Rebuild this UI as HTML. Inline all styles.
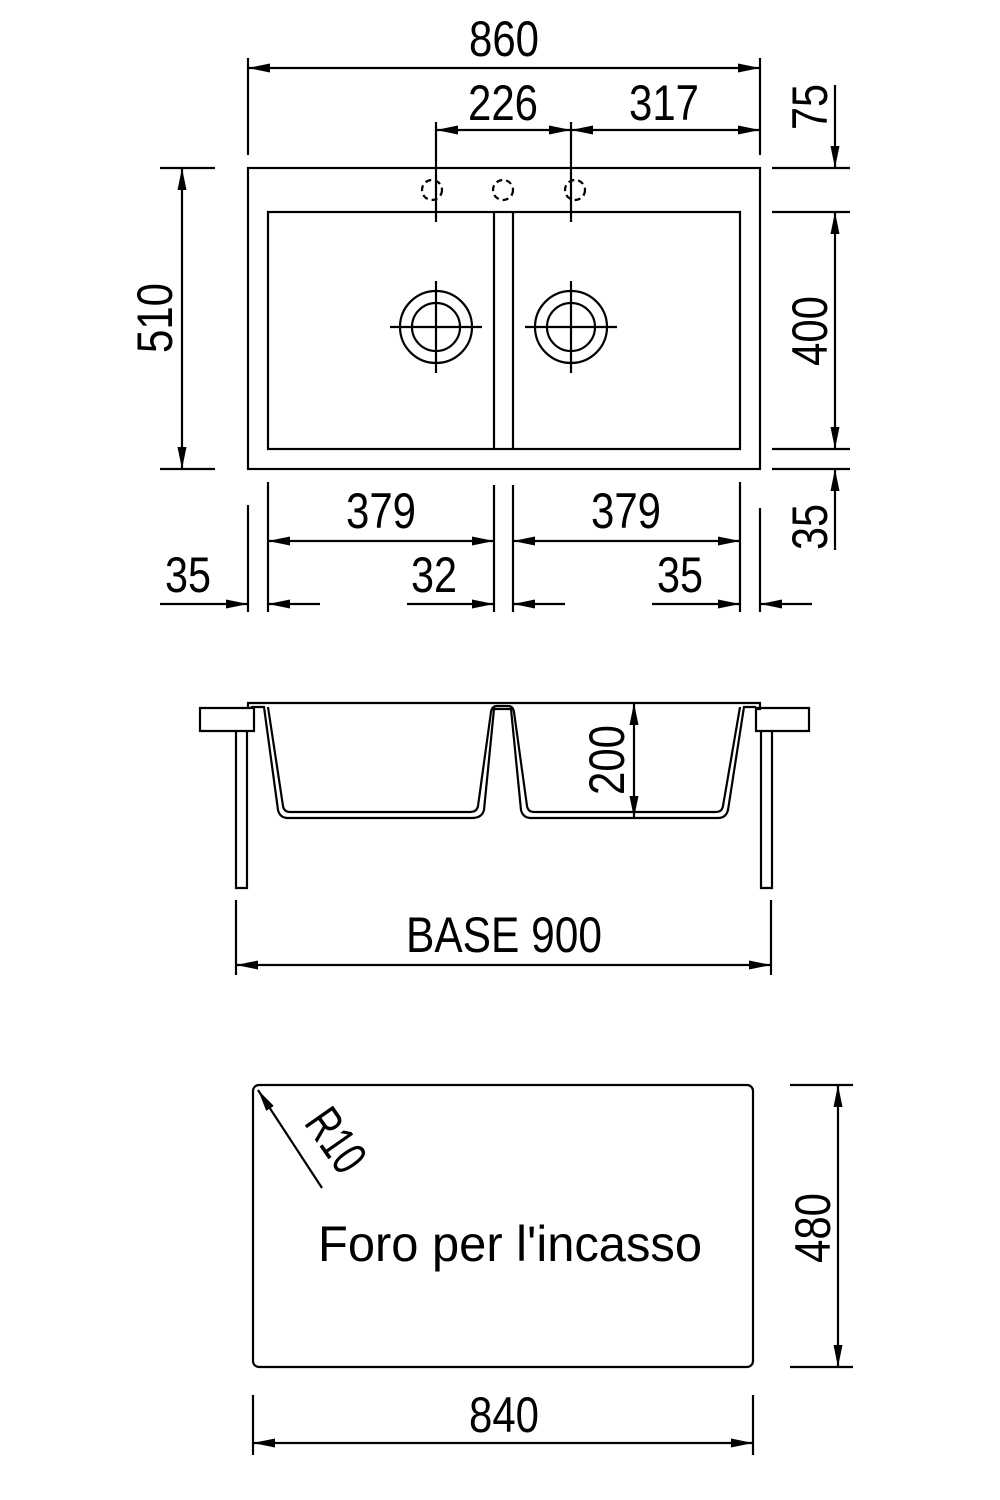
<!DOCTYPE html>
<html><head><meta charset="utf-8"><style>body{margin:0;background:#fff}svg{display:block}text{font-family:"Liberation Sans",sans-serif;font-size:50px;fill:#000}</style></head>
<body>
<svg width="1000" height="1500" viewBox="0 0 1000 1500" xmlns="http://www.w3.org/2000/svg">
<defs>
<marker id="a" viewBox="0 0 22 9" refX="22" refY="4.5" markerWidth="22" markerHeight="9" markerUnits="userSpaceOnUse" orient="auto-start-reverse"><path d="M0,0 L22,4.5 L0,9z" fill="#000"/></marker>
</defs>
<g stroke="#000" stroke-width="2.2" fill="none">
<!-- top view -->
<rect x="248" y="168" width="512" height="301"/>
<rect x="268" y="212" width="472" height="237"/>
<path d="M494,212V449M513,212V449"/>
<g stroke-dasharray="6,4"><circle cx="432" cy="190" r="10"/><circle cx="503" cy="190" r="10"/><circle cx="575" cy="190" r="10"/></g>
<circle cx="436" cy="327" r="36"/><circle cx="436" cy="327" r="24"/>
<circle cx="571" cy="327" r="36"/><circle cx="571" cy="327" r="24"/>
<path d="M390,327H482M436,281V373M525,327H617M571,281V373"/>
<!-- top dims -->
<path d="M248,58V155M760,58V155M436,122V222M571,122V222"/>
<path d="M248,68H760" marker-start="url(#a)" marker-end="url(#a)"/>
<path d="M436,130H571" marker-start="url(#a)" marker-end="url(#a)"/>
<path d="M571,130H760" marker-start="url(#a)" marker-end="url(#a)"/>
<path d="M160,168H215M160,469H215"/>
<path d="M182,168V469" marker-start="url(#a)" marker-end="url(#a)"/>
<path d="M772,168H850M772,212H850M772,449H850M772,469H850"/>
<path d="M835,85V168" marker-end="url(#a)"/>
<path d="M835,212V449" marker-start="url(#a)" marker-end="url(#a)"/>
<path d="M835,550V469" marker-end="url(#a)"/>
<path d="M248,505V612M268,482V612M494,485V612M513,485V612M740,482V612M760,508V612"/>
<path d="M268,541H494" marker-start="url(#a)" marker-end="url(#a)"/>
<path d="M513,541H740" marker-start="url(#a)" marker-end="url(#a)"/>
<path d="M160,604H248" marker-end="url(#a)"/><path d="M320,604H268" marker-end="url(#a)"/>
<path d="M407,604H494" marker-end="url(#a)"/><path d="M565,604H513" marker-end="url(#a)"/>
<path d="M652,604H740" marker-end="url(#a)"/><path d="M812,604H760" marker-end="url(#a)"/>
<!-- section -->
<path d="M200,708H254V731H200Z M236,731V888H247V731"/>
<path d="M809,708H756V731H809Z M772,731V888H761V731"/>
<path d="M248,709V703H760V709H756"/>
<path d="M252,708V707H264L278,810Q280,818 288,818H472Q482,818 484,810L494,709H511L521,810Q523,818 531,818H718Q726,818 728,810L744,707H756"/>
<path d="M268,707L283,806Q284,812 290,812H470Q477,812 478,806L491,712Q492,706 497,706H508Q513,706 514,712L527,806Q528,812 534,812H716Q722,812 723,806L740,707"/>
<path d="M634,703V818" marker-start="url(#a)" marker-end="url(#a)"/>
<path d="M236,900V975M771,900V975"/>
<path d="M236,965H771" marker-start="url(#a)" marker-end="url(#a)"/>
<!-- cutout -->
<rect x="253" y="1085" width="500" height="282" rx="6"/>
<path d="M322,1188L258,1090" marker-end="url(#a)"/>
<path d="M790,1085H853M790,1367H853"/>
<path d="M838,1085V1367" marker-start="url(#a)" marker-end="url(#a)"/>
<path d="M253,1395V1455M753,1395V1455"/>
<path d="M253,1443H753" marker-start="url(#a)" marker-end="url(#a)"/>
</g>
<g text-anchor="middle">
<text x="504" y="56" textLength="70" lengthAdjust="spacingAndGlyphs">860</text>
<text x="503" y="120" textLength="70" lengthAdjust="spacingAndGlyphs">226</text>
<text x="664" y="120" textLength="70" lengthAdjust="spacingAndGlyphs">317</text>
<text transform="translate(172,318) rotate(-90)" textLength="70" lengthAdjust="spacingAndGlyphs">510</text>
<text transform="translate(827,107) rotate(-90)" textLength="46" lengthAdjust="spacingAndGlyphs">75</text>
<text transform="translate(827,331) rotate(-90)" textLength="70" lengthAdjust="spacingAndGlyphs">400</text>
<text transform="translate(827,527) rotate(-90)" textLength="46" lengthAdjust="spacingAndGlyphs">35</text>
<text x="381" y="528" textLength="70" lengthAdjust="spacingAndGlyphs">379</text>
<text x="626" y="528" textLength="70" lengthAdjust="spacingAndGlyphs">379</text>
<text x="188" y="592" textLength="46" lengthAdjust="spacingAndGlyphs">35</text>
<text x="434" y="592" textLength="46" lengthAdjust="spacingAndGlyphs">32</text>
<text x="680" y="592" textLength="46" lengthAdjust="spacingAndGlyphs">35</text>
<text transform="translate(624,760) rotate(-90)" textLength="70" lengthAdjust="spacingAndGlyphs">200</text>
<text x="504" y="952" textLength="196" lengthAdjust="spacingAndGlyphs">BASE 900</text>
<text transform="translate(322,1150) rotate(55)" textLength="66" lengthAdjust="spacingAndGlyphs">R10</text>
<text x="510" y="1261" textLength="384" lengthAdjust="spacingAndGlyphs">Foro per l'incasso</text>
<text transform="translate(830,1228) rotate(-90)" textLength="70" lengthAdjust="spacingAndGlyphs">480</text>
<text x="504" y="1432" textLength="70" lengthAdjust="spacingAndGlyphs">840</text>
</g>
</svg>
</body></html>
